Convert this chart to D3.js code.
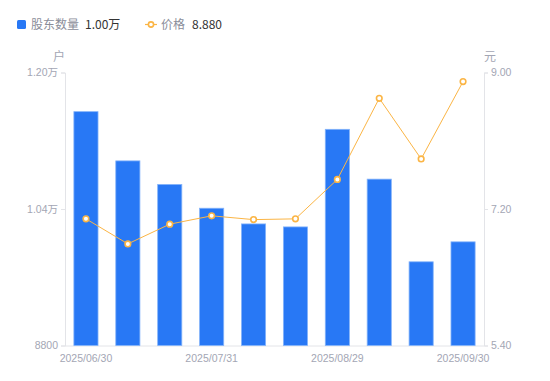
<!DOCTYPE html>
<html><head><meta charset="utf-8">
<script src="https://cdn.jsdelivr.net/npm/d3@7"></script>
<style>body{margin:0;background:#fff}svg{display:block;font-family:"Noto Sans CJK SC","Noto Sans",sans-serif}</style>
</head><body><svg id="c" width="550" height="381"></svg>
<script>
const dates = ["2025/06/30","2025/07/10","2025/07/20","2025/07/31","2025/08/10","2025/08/20","2025/08/29","2025/09/10","2025/09/19","2025/09/30"];
const holders = [11541,10964,10688,10409,10225,10190,11334,10750,9781,10015];
const prices = [7.07,6.74,7.00,7.11,7.06,7.07,7.59,8.66,7.86,8.88];
const shownDates = ["2025/06/30","2025/07/31","2025/08/29","2025/09/30"];
const leftTicks = [8800,10400,12000];
const rightTicks = [5.40,7.20,9.00];

const svg = d3.select("#c");
const L=65,R=484,T=72.5,B=345.5;
const x = d3.scaleBand().domain(dates).range([L,R]).paddingInner(0.4).paddingOuter(0.2);
const yL = d3.scaleLinear().domain([8800,12000]).range([B,T]);
const yR = d3.scaleLinear().domain([5.4,9.0]).range([B,T]);
const axisCol="#e3e4e8", txtCol="#a3a6b4";

function fmtL(v){return v>=10000?(v/10000).toFixed(2)+"万":String(v);}

// axes
const gl = svg.append("g").attr("transform",`translate(${L},0)`)
  .call(d3.axisLeft(yL).tickValues(leftTicks).tickFormat(fmtL).tickSize(4).tickPadding(3));
const gr = svg.append("g").attr("transform",`translate(${R},0)`)
  .call(d3.axisRight(yR).tickValues(rightTicks).tickFormat(d3.format(".2f")).tickSize(4).tickPadding(3));
const gb = svg.append("g").attr("transform",`translate(0,${B})`)
  .call(d3.axisBottom(x).tickValues(shownDates).tickSize(0).tickPadding(9));
[gl,gr,gb].forEach(g=>{
  g.selectAll("path,line").attr("stroke",axisCol);
  g.selectAll("text").attr("fill",txtCol).attr("font-size",10.5).attr("font-family","'Liberation Sans','Noto Sans CJK SC',sans-serif");
});
gb.select("path").attr("d",`M${L},0.5H${R}`);

// bars
svg.append("g").selectAll("rect").data(holders).join("rect")
  .attr("x",(d,i)=>x(dates[i])+0.5).attr("width",x.bandwidth()-1)
  .attr("y",d=>yL(d)).attr("height",d=>B-yL(d))
  .attr("fill","#2878f5").attr("stroke","#84b3fa").attr("stroke-width",0.8);

// line
const line = d3.line().x((d,i)=>x(dates[i])+x.bandwidth()/2).y(d=>yR(d));
svg.append("path").datum(prices).attr("d",line).attr("fill","none").attr("stroke","#fbb545").attr("stroke-width",1);
svg.append("g").selectAll("circle").data(prices).join("circle")
  .attr("cx",(d,i)=>x(dates[i])+x.bandwidth()/2).attr("cy",d=>yR(d)).attr("r",2.8)
  .attr("fill","#fff").attr("stroke","#fbb545").attr("stroke-width",1.6);

// units
svg.append("text").attr("x",59).attr("y",61).attr("text-anchor","middle").attr("fill",txtCol).attr("font-size",12).text("户");
svg.append("text").attr("x",490).attr("y",61).attr("text-anchor","middle").attr("fill",txtCol).attr("font-size",12).text("元");

// legend
const lg = svg.append("g");
lg.append("rect").attr("x",17).attr("y",20).attr("width",9).attr("height",9).attr("rx",1.5).attr("fill","#2878f5");
lg.append("text").attr("x",31).attr("y",29).attr("fill","#8a8d99").attr("font-size",12).text("股东数量");
lg.append("text").attr("x",85).attr("y",29).attr("fill","#333").attr("font-size",12).text(fmtL(holders[holders.length-1]));
lg.append("line").attr("x1",145).attr("x2",157).attr("y1",24.5).attr("y2",24.5).attr("stroke","#fbb545").attr("stroke-width",1.2);
lg.append("circle").attr("cx",151).attr("cy",24.5).attr("r",2.6).attr("fill","#fff").attr("stroke","#fbb545").attr("stroke-width",1.6);
lg.append("text").attr("x",161).attr("y",29).attr("fill","#8a8d99").attr("font-size",12).text("价格");
lg.append("text").attr("x",192).attr("y",29).attr("fill","#333").attr("font-size",12).text(prices[prices.length-1].toFixed(3));
</script></body></html>
